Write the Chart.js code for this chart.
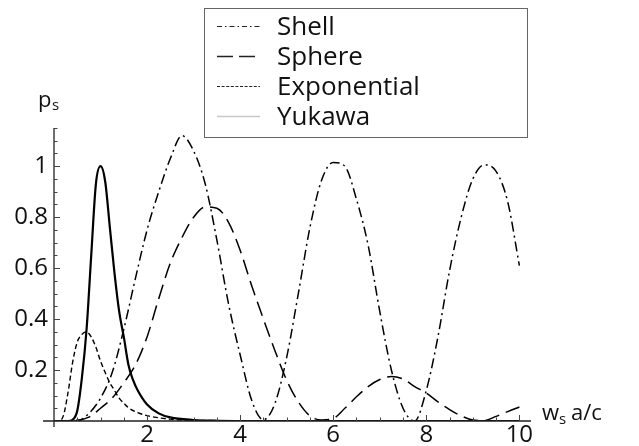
<!DOCTYPE html>
<html>
<head>
<meta charset="utf-8">
<script src="https://cdn.jsdelivr.net/npm/chart.js@4.4.1/dist/chart.umd.min.js"></script>
<style>
html,body{margin:0;padding:0;background:#fff;}
#wrap{width:639px;height:446px;position:relative;}
</style>
</head>
<body>
<div id="wrap"><canvas id="c" width="639" height="446"></canvas></div>
<script>
// ---- data ----
const seriesLabels = ['Shell', 'Sphere', 'Exponential', 'Yukawa'];

const shellX = [0, 0.5, 0.75, 1.0, 1.25, 1.5, 1.75, 2.0, 2.25, 2.5, 2.75, 3.0, 3.25, 3.5, 3.75, 4.0, 4.25, 4.5, 4.75, 5.0, 5.25, 5.5, 5.75, 6.0, 6.25, 6.5, 6.75, 7.0, 7.25, 7.5, 7.75, 8.0, 8.25, 8.5, 8.75, 9.0, 9.25, 9.5, 9.75, 10];
const shellY = [0, 0, 0.03, 0.09, 0.19, 0.36, 0.56, 0.75, 0.90, 1.03, 1.12, 1.06, 0.93, 0.71, 0.46, 0.26, 0.08, 0.005, 0.07, 0.25, 0.50, 0.76, 0.945, 1.015, 1.0, 0.87, 0.69, 0.43, 0.20, 0.05, 0.0, 0.12, 0.33, 0.59, 0.80, 0.95, 1.005, 0.98, 0.86, 0.61];

const sphereX = [0, 0.5, 0.75, 1.0, 1.25, 1.5, 1.75, 2.0, 2.25, 2.5, 2.75, 3.0, 3.25, 3.5, 3.75, 4.0, 4.25, 4.5, 4.75, 5.0, 5.25, 5.5, 5.75, 6.0, 6.25, 6.5, 6.75, 7.0, 7.25, 7.5, 7.75, 8.0, 8.25, 8.5, 8.75, 9.0, 9.25, 9.5, 9.75, 10];
const sphereY = [0, 0.003, 0.015, 0.05, 0.09, 0.15, 0.22, 0.33, 0.48, 0.62, 0.72, 0.80, 0.84, 0.835, 0.78, 0.67, 0.53, 0.40, 0.275, 0.16, 0.075, 0.02, 0.004, 0.01, 0.05, 0.095, 0.135, 0.163, 0.175, 0.165, 0.135, 0.11, 0.075, 0.045, 0.02, 0.004, 0.002, 0.018, 0.037, 0.055];

const expX = [0, 0.1, 0.2, 0.3, 0.4, 0.5, 0.6, 0.7, 0.8, 0.9, 1.0, 1.1, 1.2, 1.3, 1.4, 1.5, 1.6, 1.8, 2.0, 2.2, 2.5, 3.0, 10];
const expY = [0, 0, 0.02, 0.11, 0.23, 0.31, 0.34, 0.35, 0.33, 0.29, 0.235, 0.19, 0.15, 0.12, 0.09, 0.07, 0.052, 0.033, 0.021, 0.014, 0.007, 0.002, 0];

const yukawaX = [0, 0.3, 0.4, 0.5, 0.6, 0.7, 0.8, 0.9, 1.0, 1.1, 1.2, 1.3, 1.4, 1.5, 1.6, 1.7, 1.8, 2.0, 2.25, 2.5, 3.0, 3.5, 4.5, 10];
const yukawaY = [0, 0, 0.005, 0.04, 0.17, 0.36, 0.65, 0.93, 1.0, 0.94, 0.76, 0.58, 0.43, 0.33, 0.22, 0.16, 0.12, 0.065, 0.03, 0.014, 0.004, 0.001, 0, 0];

const xTickValues = [2, 4, 6, 8, 10];
const xTickLabels = ['2', '4', '6', '8', '10'];
const yTickValues = [0.2, 0.4, 0.6, 0.8, 1];
const yTickLabels = ['0.2', '0.4', '0.6', '0.8', '1'];

// ---- helpers ----
const pts = (xs, ys) => xs.map((x, i) => ({x: x, y: ys[i]}));
const FONT = "'Open Sans', 'Noto Sans', sans-serif";

const decor = {
  id: 'decor',
  afterDraw(chart) {
    const ctx = chart.ctx;
    const xs = chart.scales.x, ys = chart.scales.y;
    const x0 = xs.getPixelForValue(0), y0 = ys.getPixelForValue(0);
    ctx.save();
    // axes lines
    ctx.strokeStyle = '#222';
    ctx.lineWidth = 1.3;
    ctx.beginPath();
    ctx.moveTo(x0 - 11, y0); ctx.lineTo(xs.right, y0);
    ctx.moveTo(x0, y0 + 6); ctx.lineTo(x0, ys.top);
    ctx.stroke();
    // inward ticks
    ctx.lineWidth = 1;
    ctx.strokeStyle = '#444';
    ctx.beginPath();
    for (let k = 1; k <= 20; k++) {
      const v = k * 0.5;
      const px = Math.round(xs.getPixelForValue(v)) + 0.5;
      const len = (k % 4 === 0) ? 6 : 3.5;
      ctx.moveTo(px, y0); ctx.lineTo(px, y0 - len);
    }
    for (let k = 1; k <= 23; k++) {
      const v = k * 0.05;
      const py = Math.round(ys.getPixelForValue(v)) + 0.5;
      const len = (k % 4 === 0) ? 6 : 3.5;
      ctx.moveTo(x0, py); ctx.lineTo(x0 + len, py);
    }
    ctx.stroke();

    // axis titles
    ctx.fillStyle = '#111';
    ctx.textBaseline = 'alphabetic';
    ctx.textAlign = 'left';
    ctx.font = '22px ' + FONT;
    ctx.fillText('p', 38, 107);
    ctx.font = '15px ' + FONT;
    ctx.fillText('s', 52, 110);
    ctx.font = '22px ' + FONT;
    ctx.fillText('w', 542, 420);
    const ww = 542 + ctx.measureText('w').width;
    ctx.font = '15px ' + FONT;
    ctx.fillText('s', ww, 424);
    ctx.font = '22px ' + FONT;
    ctx.fillText('a/c', ww + 12, 420);

    // legend box
    ctx.strokeStyle = '#666';
    ctx.lineWidth = 1;
    ctx.setLineDash([]);
    ctx.strokeRect(204.5, 8.5, 323, 129);
    const baselines = [35, 65, 95, 125];
    chart.data.datasets.forEach((ds, i) => {
      const by = baselines[i];
      ctx.save();
      ctx.strokeStyle = ds.legendColor;
      ctx.lineWidth = ds.legendWidth;
      ctx.setLineDash(ds.legendDash);
      ctx.beginPath();
      ctx.moveTo(217, by - 8.5); ctx.lineTo(260, by - 8.5);
      ctx.stroke();
      ctx.restore();
      ctx.fillStyle = '#111';
      ctx.font = '26px ' + FONT;
      ctx.fillText(ds.label, 277, by);
    });
    ctx.restore();
  }
};

const common = {
  fill: false,
  pointRadius: 0,
  borderColor: '#000',
  cubicInterpolationMode: 'monotone',
  parsing: false
};

new Chart(document.getElementById('c'), {
  type: 'line',
  data: {
    datasets: [
      Object.assign({}, common, {
        label: seriesLabels[0], data: pts(shellX, shellY),
        borderWidth: 1.5, borderDash: [10, 4, 2, 4],
        legendColor: '#222', legendWidth: 1.2, legendDash: [5, 3, 1.5, 3]
      }),
      Object.assign({}, common, {
        label: seriesLabels[1], data: pts(sphereX, sphereY),
        borderWidth: 1.5, borderDash: [15, 7],
        legendColor: '#222', legendWidth: 1.3, legendDash: [16, 6]
      }),
      Object.assign({}, common, {
        label: seriesLabels[2], data: pts(expX, expY),
        borderWidth: 1.4, borderDash: [5, 3],
        legendColor: '#222', legendWidth: 1.2, legendDash: [3, 1.6]
      }),
      Object.assign({}, common, {
        label: seriesLabels[3], data: pts(yukawaX, yukawaY),
        borderWidth: 2.2, borderDash: [],
        legendColor: '#c8c8c8', legendWidth: 1.3, legendDash: []
      })
    ]
  },
  options: {
    responsive: false,
    animation: false,
    events: [],
    layout: { padding: { left: 0, right: 108, top: 128, bottom: 0 } },
    plugins: { legend: { display: false }, tooltip: { enabled: false } },
    scales: {
      x: {
        type: 'linear', position: 'bottom',
        min: 0, max: 10.25,
        grid: { display: false, drawTicks: false },
        border: { display: false },
        afterBuildTicks: s => { s.ticks = xTickValues.map(v => ({value: v})); },
        afterFit: s => { s.height = 25; },
        ticks: {
          autoSkip: false, maxRotation: 0, padding: 0, color: '#111',
          font: { family: FONT, size: 24 },
          callback: v => { const i = xTickValues.indexOf(v); return i >= 0 ? xTickLabels[i] : ''; }
        }
      },
      y: {
        type: 'linear', position: 'left',
        min: 0, max: 1.15,
        grid: { display: false, drawTicks: false },
        border: { display: false },
        afterBuildTicks: s => { s.ticks = yTickValues.map(v => ({value: v})); },
        afterFit: s => { s.width = 54; },
        ticks: {
          autoSkip: false, padding: 6, color: '#111',
          font: { family: FONT, size: 24 },
          callback: v => { const i = yTickValues.indexOf(v); return i >= 0 ? yTickLabels[i] : ''; }
        }
      }
    }
  },
  plugins: [decor]
});
</script>
</body>
</html>
